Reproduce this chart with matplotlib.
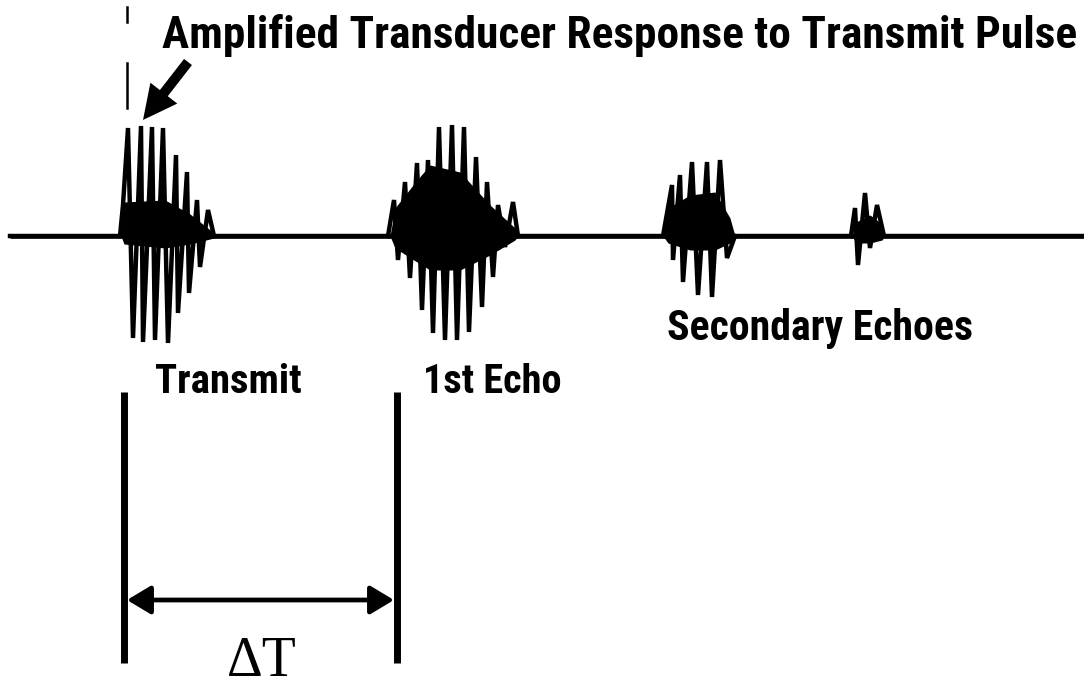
import matplotlib
matplotlib.use("Agg")
import matplotlib.pyplot as plt
from matplotlib.patches import FancyArrow, FancyArrowPatch

# ---- data (pixel-like units, y grows downward) ----
baseline_y = 236
trace_x_range = [10, 1084]

# Transmit burst
tx_x = [10, 120, 123, 128, 133, 141, 143, 152, 155, 163, 168, 176, 178, 187, 189, 197, 200, 208, 214, 1084]
tx_y = [236, 236, 205, 128, 338, 126, 342, 127, 340, 128, 343, 155, 313, 172, 293, 200, 267, 210, 236, 236]
tx_core_x = [121, 124, 165, 190, 214]
tx_core_top = [236, 202, 200, 214, 233]
tx_core_bot = [236, 244, 248, 244, 238]

# 1st echo
e1_x = [388, 394, 398, 405, 410, 417, 422, 428, 433, 439, 445, 452, 457, 464, 469, 476, 482, 487, 493, 498, 505, 513, 518]
e1_y = [236, 200, 260, 182, 278, 163, 310, 160, 333, 127, 340, 125, 340, 127, 332, 157, 307, 182, 277, 205, 247, 202, 236]
e1_core_x = [390, 395, 417, 430, 460, 490, 515, 518]
e1_core_top = [236, 208, 180, 165, 172, 205, 228, 236]
e1_core_bot = [236, 248, 262, 270, 270, 255, 240, 236]

# Secondary echo (first)
s1_x = [663, 672, 673, 680, 683, 692, 698, 707, 712, 720, 727, 735]
s1_y = [236, 185, 260, 175, 282, 162, 295, 162, 297, 160, 258, 236]
s1_core_x = [663, 668, 690, 715, 730, 735]
s1_core_top = [236, 208, 195, 192, 218, 236]
s1_core_bot = [236, 243, 250, 250, 243, 236]

# Secondary echo (second)
s2_x = [851, 855, 858, 865, 870, 877, 884]
s2_y = [236, 208, 265, 193, 248, 205, 236]
s2_core_x = [852, 856, 870, 882, 885]
s2_core_top = [236, 222, 215, 224, 236]
s2_core_bot = [236, 243, 243, 240, 236]

# Labels
title_text = "Amplified Transducer Response to Transmit Pulse"
label_transmit = "Transmit"
label_echo = "1st Echo"
label_secondary = "Secondary Echoes"
label_dt = "\u0394T"

# ---- figure ----
W, H = 1084, 690
fig = plt.figure(figsize=(W / 100, H / 100), dpi=100)
ax = fig.add_axes([0, 0, 1, 1])
ax.set_xlim(0, W)
ax.set_ylim(H, 0)
ax.axis("off")

lw_trace = 3.2
ax.plot(trace_x_range, [baseline_y, baseline_y], color="black", lw=3.3, solid_capstyle="butt")
for xs, ys in [(tx_x, tx_y), (e1_x, e1_y), (s1_x, s1_y), (s2_x, s2_y)]:
    ax.plot(xs, ys, color="black", lw=lw_trace, solid_joinstyle="miter")
for cx, ct, cb in [(tx_core_x, tx_core_top, tx_core_bot), (e1_core_x, e1_core_top, e1_core_bot),
                   (s1_core_x, s1_core_top, s1_core_bot), (s2_core_x, s2_core_top, s2_core_bot)]:
    ax.fill_between(cx, ct, cb, color="black", lw=0)

# dashed marker line at transmit
ax.plot([127, 127], [7, 22], color="black", lw=1.8)
ax.plot([127, 127], [63, 108], color="black", lw=1.8)

# pointer arrow
ax.add_patch(FancyArrow(188, 62, 143 - 188, 120 - 62, width=10, head_width=34,
                        head_length=34, length_includes_head=True, color="black", lw=0))

# Delta T construction
ax.plot([124, 124], [392, 663], color="black", lw=5.0, solid_capstyle="butt")
ax.plot([397, 397], [392, 663], color="black", lw=5.0, solid_capstyle="butt")
ax.add_patch(FancyArrowPatch((127, 600), (394, 600), arrowstyle="<|-|>,head_length=1.0,head_width=0.6",
                             mutation_scale=14.4, lw=3.4, color="black", shrinkA=0, shrinkB=0))

fig.canvas.draw()
renderer = fig.canvas.get_renderer()


def fit_text(s, x0, x1, base_y, family, size, weight="bold"):
    t = ax.text(x0, base_y, s, fontsize=size, family=family, weight=weight,
                ha="left", va="baseline", color="black")
    bb = t.get_window_extent(renderer=renderer)
    t.set_fontsize(size * (x1 - x0) / bb.width)
    return t


sans = ["Liberation Sans Narrow", "Roboto Condensed", "DejaVu Sans"]
fit_text(title_text, 162, 1077, 48, sans, 26)
fit_text(label_transmit, 155, 302, 393, sans, 30)
fit_text(label_echo, 423, 562, 393, sans, 30)
fit_text(label_secondary, 667, 973, 340, sans, 28)
ax.text(262, 676, label_dt, fontsize=40, family=["Liberation Serif", "DejaVu Serif"],
        ha="center", va="baseline", color="black")

fig.savefig("out.png", dpi=100)
